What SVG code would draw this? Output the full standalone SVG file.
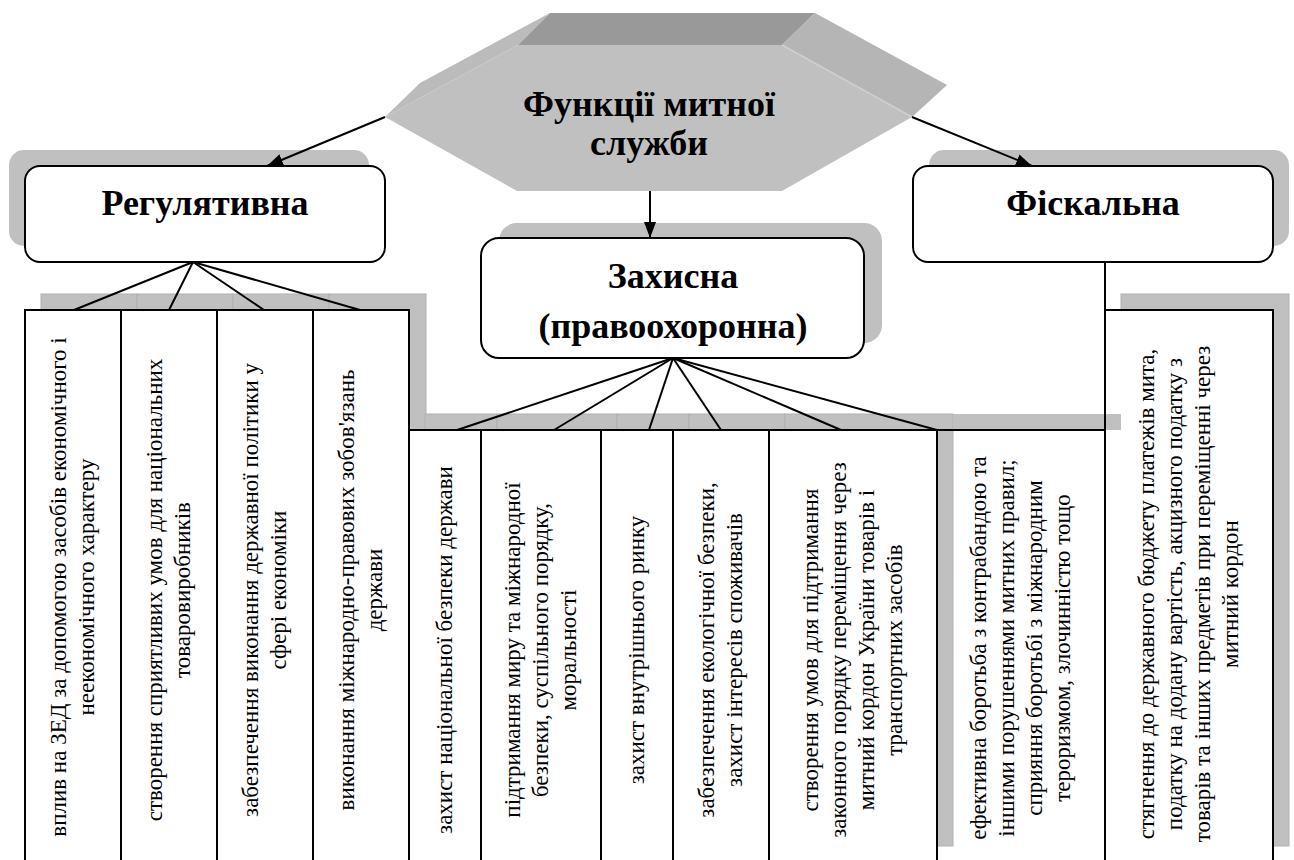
<svg xmlns="http://www.w3.org/2000/svg" width="1294" height="860" viewBox="0 0 1294 860">
<defs>
<marker id="ah" markerUnits="userSpaceOnUse" markerWidth="18" markerHeight="14" refX="16" refY="6" orient="auto">
<path d="M0,0 L16,6 L0,12 Z" fill="#000"/>
</marker>
<style>
.sh{fill:#c0c0c0;stroke:#b0b0b0;stroke-width:1}
.shn{fill:#c0c0c0}
.wf{fill:#fff;stroke:none}
.bd{fill:none;stroke:#000;stroke-width:2}
.box{fill:#fff;stroke:#000;stroke-width:2}
.ln{stroke:#000;stroke-width:2;fill:none}
.t{font-size:23px;fill:#000;text-anchor:middle}
.h{font-size:36px;font-weight:bold;fill:#000;text-anchor:middle}
</style>
</defs>
<rect width="1294" height="860" fill="#fff"/>
<g font-family="'Liberation Serif', 'Times New Roman', serif">

<g id="root">
<polygon points="385,117 518,45 550,13 420,83" fill="#bbbbbb"/>
<polygon points="518,45 782,45 815,13 550,13" fill="#999999"/>
<polygon points="782,45 912,117 947,85 815,13" fill="#b5b5b5"/>
<polygon points="385,117 518,45 782,45 912,117 782,191 517,191" fill="#c0c0c0"/>
<polyline points="385,117 518,45" fill="none" stroke="#c8c8c8" stroke-width="1"/>
<polyline points="782,45 912,117" fill="none" stroke="#cfcfcf" stroke-width="1.5"/>
<text class="h" x="649" y="116">Функції митної</text>
<text class="h" x="649" y="155">служби</text>
</g>

<g id="regulative">
<rect class="shn" x="9" y="150" width="360" height="96" rx="15"/>
<rect class="box" x="25" y="166" width="360" height="96" rx="15"/>
<text class="h" x="205" y="215">Регулятивна</text>
</g>

<g id="fiscal">
<rect class="shn" x="929" y="150" width="360" height="96" rx="15"/>
<rect class="box" x="913" y="166" width="360" height="96" rx="15"/>
<text class="h" x="1093" y="215">Фіскальна</text>
</g>

<g id="protective">
<rect class="shn" x="499" y="223" width="383" height="120" rx="18"/>
<rect class="box" x="481" y="238" width="383" height="120" rx="18"/>
<text class="h" x="673" y="288">Захисна</text>
<text class="h" x="673" y="338">(правоохоронна)</text>
</g>

<g id="shadows">
<rect class="sh" x="41" y="294" width="96" height="552"/>
<rect class="sh" x="137" y="294" width="96" height="552"/>
<rect class="sh" x="233" y="294" width="96" height="552"/>
<rect class="sh" x="329" y="294" width="97" height="552"/>
<rect class="sh" x="425" y="414" width="72" height="432"/>
<rect class="sh" x="497" y="414" width="120" height="432"/>
<rect class="sh" x="617" y="414" width="72" height="432"/>
<rect class="sh" x="689" y="414" width="96" height="432"/>
<rect class="sh" x="785" y="414" width="168" height="432"/>
<rect class="sh" x="1121" y="294" width="168" height="552"/>
</g>

<g id="fills">
<rect class="wf" x="25" y="310" width="384" height="560"/>
<rect class="wf" x="409" y="430" width="528" height="440"/>
<rect class="wf" x="1105" y="310" width="168" height="560"/>
<rect class="shn" x="953" y="414" width="168" height="16"/>
</g>

<g id="connectors">
<line class="ln" x1="385" y1="117" x2="267" y2="166" marker-end="url(#ah)"/>
<line class="ln" x1="912" y1="117" x2="1032" y2="166" marker-end="url(#ah)"/>
<line class="ln" x1="650" y1="191" x2="650" y2="238" marker-end="url(#ah)"/>
<line class="ln" x1="193" y1="262" x2="74" y2="310"/>
<line class="ln" x1="193" y1="262" x2="169" y2="310"/>
<line class="ln" x1="193" y1="262" x2="264" y2="310"/>
<line class="ln" x1="193" y1="262" x2="360" y2="310"/>
<line class="ln" x1="673" y1="358" x2="457" y2="430"/>
<line class="ln" x1="673" y1="358" x2="554" y2="430"/>
<line class="ln" x1="673" y1="358" x2="649" y2="430"/>
<line class="ln" x1="673" y1="358" x2="721" y2="430"/>
<line class="ln" x1="673" y1="358" x2="841" y2="430"/>
<line class="ln" x1="673" y1="358" x2="937" y2="430"/>
<line class="ln" x1="1105" y1="262" x2="1105" y2="310"/>
</g>

<g id="col-reg-1">
<rect class="bd" x="25" y="310" width="96" height="552"/>
<text class="t" transform="translate(66,587) rotate(-90)">вплив на ЗЕД за допомогою засобів економічного і</text>
<text class="t" transform="translate(94,587) rotate(-90)">неекономічного характеру</text>
</g>
<g id="col-reg-2">
<rect class="bd" x="121" y="310" width="96" height="552"/>
<text class="t" transform="translate(162,590) rotate(-90)">створення сприятливих умов для національних</text>
<text class="t" transform="translate(190,590) rotate(-90)">товаровиробників</text>
</g>
<g id="col-reg-3">
<rect class="bd" x="217" y="310" width="96" height="552"/>
<text class="t" transform="translate(258,590) rotate(-90)">забезпечення виконання державної політики у</text>
<text class="t" transform="translate(286,590) rotate(-90)">сфері економіки</text>
</g>
<g id="col-reg-4">
<rect class="bd" x="313" y="310" width="96" height="552"/>
<text class="t" transform="translate(354,590) rotate(-90)">виконання міжнародно-правових зобов'язань</text>
<text class="t" transform="translate(382,590) rotate(-90)">держави</text>
</g>

<g id="col-prot-1">
<rect class="bd" x="409" y="430" width="72" height="432"/>
<text class="t" transform="translate(452,650) rotate(-90)">захист національної безпеки держави</text>
</g>
<g id="col-prot-2">
<rect class="bd" x="481" y="430" width="120" height="432"/>
<text class="t" transform="translate(520,650) rotate(-90)">підтримання миру та міжнародної</text>
<text class="t" transform="translate(548,650) rotate(-90)">безпеки, суспільного порядку,</text>
<text class="t" transform="translate(576,650) rotate(-90)">моральності</text>
</g>
<g id="col-prot-3">
<rect class="bd" x="601" y="430" width="72" height="432"/>
<text class="t" transform="translate(644,650) rotate(-90)">захист внутрішнього ринку</text>
</g>
<g id="col-prot-4">
<rect class="bd" x="673" y="430" width="96" height="432"/>
<text class="t" transform="translate(714,650) rotate(-90)">забезпечення екологічної безпеки,</text>
<text class="t" transform="translate(742,650) rotate(-90)">захист інтересів споживачів</text>
</g>
<g id="col-prot-5">
<rect class="bd" x="769" y="430" width="168" height="432"/>
<text class="t" transform="translate(818,650) rotate(-90)">створення умов для підтримання</text>
<text class="t" transform="translate(846,650) rotate(-90)">законного порядку переміщення через</text>
<text class="t" transform="translate(874,650) rotate(-90)">митний кордон України товарів і</text>
<text class="t" transform="translate(902,650) rotate(-90)">транспортних засобів</text>
</g>
<g id="col-prot-6">
<rect class="bd" x="937" y="430" width="168" height="432"/>
<text class="t" transform="translate(986,648) rotate(-90)">ефективна боротьба з контрабандою та</text>
<text class="t" transform="translate(1014,648) rotate(-90)">іншими порушеннями митних правил;</text>
<text class="t" transform="translate(1042,648) rotate(-90)">сприяння боротьбі з міжнародним</text>
<text class="t" transform="translate(1070,648) rotate(-90)">тероризмом, злочинністю тощо</text>
</g>
<g id="col-fisc-1">
<rect class="bd" x="1105" y="310" width="168" height="552"/>
<text class="t" transform="translate(1154,594) rotate(-90)">стягнення до державного бюджету платежів мита,</text>
<text class="t" transform="translate(1182,594) rotate(-90)">податку на додану вартість, акцизного податку з</text>
<text class="t" transform="translate(1210,594) rotate(-90)">товарів та інших предметів при переміщенні через</text>
<text class="t" transform="translate(1238,594) rotate(-90)">митний кордон</text>
</g>
</g>
</svg>
